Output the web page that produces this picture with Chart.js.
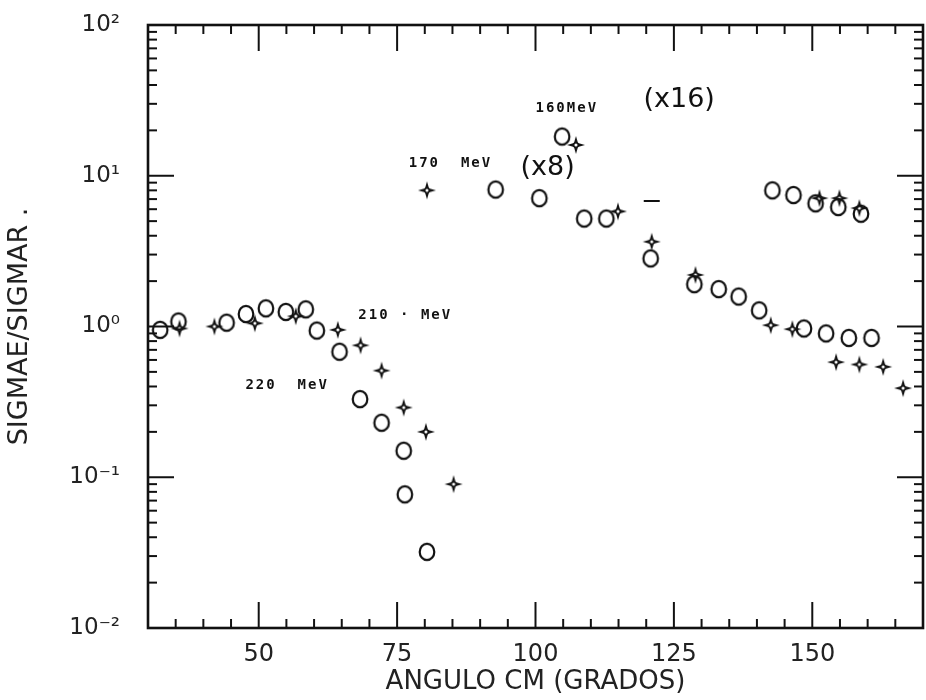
<!DOCTYPE html>
<html>
<head>
<meta charset="utf-8">
<script src="https://cdn.jsdelivr.net/npm/chart.js@4.4.1/dist/chart.umd.min.js"></script>
<style>
  html, body { margin: 0; padding: 0; background: #fff; overflow: hidden; }
  canvas { display: block; }
</style>
</head>
<body>
<canvas id="chartSigma" width="933" height="700"></canvas>
<script>
// datos (angulo CM en grados, sigmaE/sigmaR)
const anguloCirc220 = [32.2, 35.5, 44.2, 47.7, 51.3, 54.9, 58.5, 60.5, 64.6, 68.3, 72.2, 76.2, 76.4, 80.4];
const sigmaCirc220  = [0.95, 1.08, 1.06, 1.21, 1.32, 1.25, 1.30, 0.94, 0.68, 0.33, 0.23, 0.15, 0.077, 0.032];

const anguloEst210 = [35.7, 42.0, 49.3, 56.7, 64.3, 68.4, 72.2, 76.2, 80.2, 85.2];
const sigmaEst210  = [0.97, 1.00, 1.05, 1.17, 0.95, 0.75, 0.51, 0.29, 0.20, 0.09];

const anguloCircAlto = [92.8, 100.7, 104.8, 108.8, 112.8, 120.8, 128.7, 133.1, 136.7, 140.4, 142.8, 146.6, 148.5, 150.6, 152.5, 154.7, 156.6, 158.8, 160.7];
const sigmaCircAlto  = [8.1, 7.1, 18.2, 5.2, 5.2, 2.83, 1.91, 1.77, 1.58, 1.28, 8.0, 7.45, 0.97, 6.56, 0.90, 6.2, 0.84, 5.6, 0.84];

const anguloEstAlto = [80.4, 107.3, 114.9, 121.0, 128.9, 142.5, 146.4, 151.3, 154.3, 154.9, 158.5, 158.5, 162.8, 166.4];
const sigmaEstAlto  = [8.0, 16.0, 5.8, 3.65, 2.2, 1.02, 0.96, 7.1, 0.58, 7.1, 6.1, 0.56, 0.54, 0.39];

const anguloMarca = [121.0];
const sigmaMarca  = [6.8];

const ticksX = [50, 75, 100, 125, 150];
const ticksY = [0.01, 0.1, 1, 10, 100];
const etiquetasY = ['10⁻²', '10⁻¹', '10⁰', '10¹', '10²'];

// textos sobre la grafica: [texto, angulo, sigma, tamaño]
const anotaciones = [
    ['220  MeV', 47.6, 0.41, 'small'],
    ['210 · MeV', 68.0, 1.19, 'small'],
    ['170  MeV', 77.1, 12.0, 'small'],
    ['(x8)', 97.3, 11.3, 'big'],
    ['160MeV', 100.0, 28.1, 'small'],
    ['(x16)', 119.5, 31.8, 'big']
];

const tinta = '#111';

const hacerCirculo = () => {
    const c = document.createElement('canvas');
    c.width = 20; c.height = 22;
    const g = c.getContext('2d');
    g.strokeStyle = tinta;
    g.lineWidth = 2.2;
    g.beginPath();
    g.ellipse(10, 11, 7.3, 8.2, 0, 0, Math.PI * 2);
    g.stroke();
    return c;
};

const hacerEstrella = () => {
    const c = document.createElement('canvas');
    c.width = 22; c.height = 22;
    const g = c.getContext('2d');
    g.strokeStyle = tinta;
    g.fillStyle = tinta;
    g.lineWidth = 1.5;
    g.translate(11, 11);
    g.beginPath();
    g.moveTo(0, -9); g.lineTo(2, -2); g.lineTo(9, 0); g.lineTo(2, 2);
    g.lineTo(0, 9); g.lineTo(-2, 2); g.lineTo(-9, 0); g.lineTo(-2, -2);
    g.closePath();
    g.fill();
    g.fillStyle = '#fff';
    g.beginPath();
    g.arc(0, 0, 2.3, 0, Math.PI * 2);
    g.fill();
    g.stroke();
    return c;
};

const circulo = hacerCirculo();
const estrella = hacerEstrella();

const puntos = (xs, ys) => xs.map((x, i) => ({ x: x, y: ys[i] }));

const serie = (label, xs, ys, estilo) => ({
    label: label,
    data: puntos(xs, ys),
    pointStyle: estilo,
    pointRadius: 8,
    borderColor: tinta,
    backgroundColor: 'rgba(0,0,0,0)',
    borderWidth: 2,
    showLine: false
});

// marco y marcas hacia dentro
const marcoPlugin = {
    id: 'marco',
    beforeDatasetsDraw(chart) {
        const { ctx, chartArea: a, scales: { x, y } } = chart;
        const linea = (x1, y1, x2, y2) => {
            ctx.beginPath(); ctx.moveTo(x1, y1); ctx.lineTo(x2, y2); ctx.stroke();
        };
        ctx.save();
        ctx.strokeStyle = tinta;
        ctx.lineWidth = 2;
        for (let v = 35; v < 170; v += 5) {
            const px = x.getPixelForValue(v);
            const largo = v % 25 === 0 ? 26 : 9;
            linea(px, a.bottom, px, a.bottom - largo);
            linea(px, a.top, px, a.top + largo);
        }
        for (let e = -2; e < 2; e++) {
            for (let m = 1; m < 10; m++) {
                if (m === 1 && e === -2) continue;
                const py = y.getPixelForValue(m * Math.pow(10, e));
                const largo = m === 1 ? 26 : 9;
                linea(a.left, py, a.left + largo, py);
                linea(a.right, py, a.right - largo, py);
            }
        }
        ctx.lineWidth = 2.6;
        ctx.strokeRect(a.left, a.top, a.right - a.left, a.bottom - a.top);
        ctx.restore();
    }
};

const textosPlugin = {
    id: 'textos',
    afterDatasetsDraw(chart) {
        const { ctx, scales: { x, y } } = chart;
        ctx.save();
        ctx.fillStyle = tinta;
        ctx.textBaseline = 'middle';
        ctx.textAlign = 'left';
        anotaciones.forEach(([texto, ax, sy, tam]) => {
            if (tam === 'small') {
                ctx.font = 'bold 14px "DejaVu Sans Mono"';
                ctx.letterSpacing = '2px';
            } else {
                ctx.font = '27px "DejaVu Sans"';
                ctx.letterSpacing = '0px';
            }
            ctx.fillText(texto, x.getPixelForValue(ax), y.getPixelForValue(sy));
        });
        ctx.restore();
    }
};

const canvas = document.getElementById('chartSigma');
const context = canvas.getContext('2d');

const chartSigma = new Chart(context, {
    type: 'scatter',
    data: {
        datasets: [
            serie('220 MeV', anguloCirc220, sigmaCirc220, circulo),
            serie('210 MeV', anguloEst210, sigmaEst210, estrella),
            serie('170/160 MeV (circulos)', anguloCircAlto, sigmaCircAlto, circulo),
            serie('170/160 MeV (estrellas)', anguloEstAlto, sigmaEstAlto, estrella),
            serie('marca', anguloMarca, sigmaMarca, 'line')
        ]
    },
    options: {
        responsive: false,
        animation: false,
        layout: { padding: { top: 25, right: 0, left: 0, bottom: 0 } },
        plugins: {
            legend: { display: false },
            tooltip: { enabled: false }
        },
        scales: {
            x: {
                type: 'linear',
                min: 30,
                max: 170,
                afterBuildTicks: (s) => { s.ticks = ticksX.map(v => ({ value: v })); },
                afterFit: (s) => {
                    s.height = 72;
                    s.paddingLeft = 0;
                    s.paddingRight = 0;
                },
                grid: { display: false, drawTicks: false },
                border: { display: false },
                ticks: {
                    color: '#222',
                    padding: 12,
                    maxRotation: 0,
                    font: { family: 'DejaVu Sans', size: 24 }
                },
                title: {
                    display: true,
                    text: 'ANGULO CM (GRADOS)',
                    color: '#222',
                    padding: { top: 0, bottom: 2 },
                    font: { family: 'DejaVu Sans', size: 26 }
                }
            },
            y: {
                type: 'logarithmic',
                min: 0.01,
                max: 100,
                afterBuildTicks: (s) => { s.ticks = ticksY.map(v => ({ value: v })); },
                afterFit: (s) => {
                    s.width = 148;
                    s.paddingTop = 0;
                    s.paddingBottom = 0;
                },
                grid: { display: false, drawTicks: false },
                border: { display: false },
                ticks: {
                    color: '#222',
                    padding: 28,
                    font: { family: 'DejaVu Sans', size: 23 },
                    callback: (v) => etiquetasY[ticksY.indexOf(v)] ?? ''
                },
                title: {
                    display: true,
                    text: 'SIGMAE/SIGMAR .',
                    color: '#222',
                    padding: { top: 4, bottom: 0 },
                    font: { family: 'DejaVu Sans', size: 27 }
                }
            }
        }
    },
    plugins: [marcoPlugin, textosPlugin]
});
</script>
</body>
</html>
